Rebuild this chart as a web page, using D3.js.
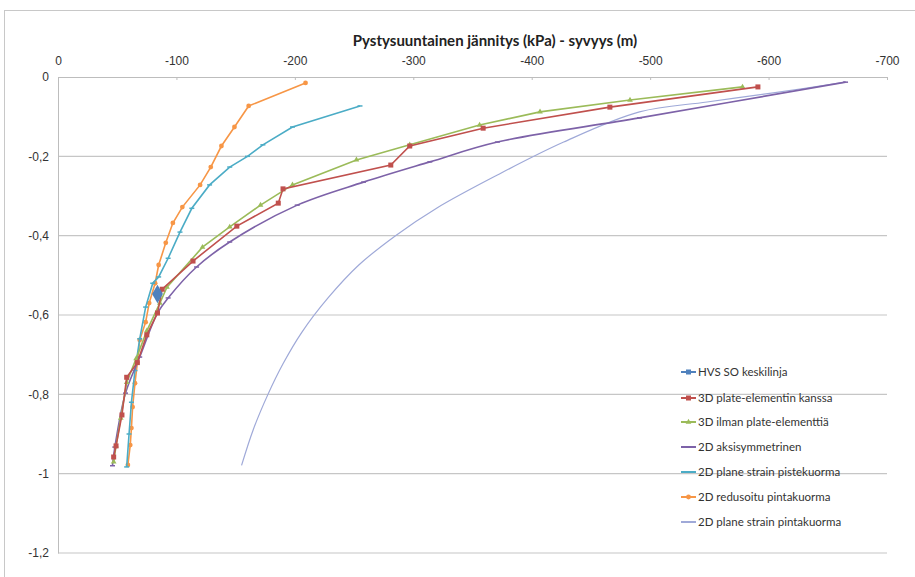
<!DOCTYPE html>
<html>
<head>
<meta charset="utf-8">
<script src="https://cdn.jsdelivr.net/npm/d3@7"></script>
<style>
  body { margin: 0; background: #fff; }
  svg { font-family: Lato, "Open Sans", sans-serif; }
</style>
</head>
<body>
<div id="chart"></div>
<script>
var svgWidth = 915;
var svgHeight = 577;

// series data: [stress kPa, depth m]
var hvsKeskilinja = [[-84, -0.547]];
var plate3D = [[-591, -0.025], [-466, -0.076], [-359, -0.129], [-297, -0.174], [-281, -0.222],
  [-190, -0.282], [-186, -0.318], [-151, -0.376], [-114, -0.464], [-88, -0.535], [-84, -0.595],
  [-75, -0.65], [-67, -0.72], [-58, -0.757], [-54, -0.852], [-49, -0.93], [-47, -0.958]];
var ilmanPlate3D = [[-578, -0.025], [-483, -0.058], [-407, -0.088], [-356, -0.121], [-297, -0.171],
  [-252, -0.209], [-198, -0.272], [-171, -0.323], [-145, -0.378], [-122, -0.429], [-92, -0.53],
  [-86, -0.57], [-75, -0.64], [-66, -0.71], [-58, -0.77], [-53, -0.86], [-49, -0.93], [-47, -0.97]];
var aksisymmetrinen = [[-665, -0.013], [-491, -0.103], [-371, -0.164], [-314, -0.214], [-258, -0.265],
  [-202, -0.323], [-145, -0.416], [-117, -0.479], [-93, -0.557], [-84, -0.595],
  [-69, -0.706], [-57, -0.797], [-48, -0.933], [-46, -0.98]];
var pistekuorma = [[-255, -0.073], [-198, -0.126], [-173, -0.171], [-160, -0.2], [-145, -0.227],
  [-128, -0.272], [-113, -0.331], [-103, -0.391], [-93, -0.457], [-85, -0.504], [-80, -0.52],
  [-74, -0.58], [-69, -0.66], [-65, -0.74], [-62, -0.82], [-60, -0.9], [-58, -0.983]];
var redusoitu = [[-209, -0.015], [-161, -0.073], [-149, -0.126], [-138, -0.174], [-129, -0.227],
  [-120, -0.272], [-105, -0.328], [-97, -0.368], [-91, -0.418], [-85, -0.474], [-82, -0.52],
  [-77, -0.57], [-74, -0.618], [-69, -0.663], [-67, -0.72], [-65, -0.772], [-63, -0.832],
  [-62, -0.885], [-61, -0.928], [-59, -0.978]];
var pintakuorma = [[-665, -0.013], [-604, -0.04], [-548, -0.063], [-491, -0.088], [-427, -0.164],
  [-371, -0.247], [-320, -0.33], [-285, -0.4], [-254, -0.474], [-228, -0.557], [-206, -0.643],
  [-190, -0.723], [-177, -0.802], [-165, -0.888], [-155, -0.979]];

var xTicks = [0, -100, -200, -300, -400, -500, -600, -700];
var yTicks = [0, -0.2, -0.4, -0.6, -0.8, -1, -1.2];

var series = [
  { name: "HVS SO keskilinja", data: hvsKeskilinja, color: "#4F81BD", marker: "diamond" },
  { name: "3D plate-elementin kanssa", data: plate3D, color: "#C0504D", marker: "square" },
  { name: "3D ilman plate-elementtiä", data: ilmanPlate3D, color: "#9BBB59", marker: "triangle" },
  { name: "2D aksisymmetrinen", data: aksisymmetrinen, color: "#7D62A8", marker: "dash", smooth: true },
  { name: "2D plane strain pistekuorma", data: pistekuorma, color: "#4BACC6", marker: "dash" },
  { name: "2D redusoitu pintakuorma", data: redusoitu, color: "#F79646", marker: "circle" },
  { name: "2D plane strain pintakuorma", data: pintakuorma, color: "#9FA9D8", marker: "none", smooth: true, thin: true }
];

var svg = d3.select("#chart").append("svg")
  .attr("width", svgWidth)
  .attr("height", svgHeight);

// outer chart border
svg.append("rect")
  .attr("x", 4.5).attr("y", 10.5)
  .attr("width", 915).attr("height", 575)
  .attr("fill", "none").attr("stroke", "#C8C8C8");

var x = d3.scaleLinear().domain([0, -700]).range([58, 887]);
var y = d3.scaleLinear().domain([0, -1.2]).range([77, 553]);

// gridlines
svg.append("g").selectAll("line")
  .data(yTicks.slice(1))
  .enter().append("line")
  .attr("x1", x(0)).attr("x2", x(-700))
  .attr("y1", d => y(d)).attr("y2", d => y(d))
  .attr("stroke", "#C6C6C6").attr("stroke-width", 1.2);

// top axis
var topAxis = d3.axisTop(x).tickValues(xTicks).tickSize(-3).tickPadding(12)
  .tickFormat(d => String(d));
var gx = svg.append("g").attr("transform", `translate(0, ${y(0)})`).call(topAxis);
gx.select(".domain").attr("stroke", "#BDBDBD");
gx.selectAll(".tick line").attr("stroke", "#BDBDBD");
gx.selectAll("text").attr("fill", "#333").style("font-size", "12px");

// left axis
var leftAxis = d3.axisLeft(y).tickValues(yTicks).tickSize(0).tickPadding(9)
  .tickFormat(d => String(d).replace(".", ","));
var gy = svg.append("g").attr("transform", `translate(${x(0)}, 0)`).call(leftAxis);
gy.select(".domain").attr("stroke", "#BDBDBD");
gy.selectAll("text").attr("fill", "#333").style("font-size", "12px");

// title
svg.append("text")
  .attr("x", 495).attr("y", 46)
  .attr("text-anchor", "middle")
  .style("font-size", "15px").style("font-weight", "bold")
  .attr("fill", "#222")
  .text("Pystysuuntainen jännitys (kPa) - syvyys (m)");

function drawMarker(g, type, color, cx, cy) {
  if (type === "diamond") {
    g.append("path").attr("d", d3.symbol(d3.symbolDiamond, 100)())
      .attr("transform", `translate(${cx},${cy})`).attr("fill", color);
  } else if (type === "square") {
    g.append("rect").attr("x", cx - 2.5).attr("y", cy - 2.5).attr("width", 5).attr("height", 5)
      .attr("fill", color);
  } else if (type === "triangle") {
    g.append("path").attr("d", d3.symbol(d3.symbolTriangle, 14)())
      .attr("transform", `translate(${cx},${cy})`).attr("fill", color);
  } else if (type === "circle") {
    g.append("circle").attr("cx", cx).attr("cy", cy).attr("r", 2.4).attr("fill", color);
  } else if (type === "dash") {
    g.append("line").attr("x1", cx - 2.5).attr("x2", cx + 2.5).attr("y1", cy).attr("y2", cy)
      .attr("stroke", color).attr("stroke-width", 1.5);
  }
}

// lines
var plot = svg.append("g");
series.slice().reverse().forEach(function(s) {
  var line = d3.line()
    .x(d => x(d[0])).y(d => y(d[1]))
    .curve(s.smooth ? d3.curveCatmullRom : d3.curveLinear);
  var g = plot.append("g");
  if (s.data.length > 1) {
    g.append("path").datum(s.data)
      .attr("d", line)
      .attr("fill", "none")
      .attr("stroke", s.color)
      .attr("stroke-width", s.thin ? 1.2 : 1.6);
  }
  s.data.forEach(d => drawMarker(g, s.marker, s.color, x(d[0]), y(d[1])));
});

// legend
var legend = svg.append("g");
var legendY = [372, 398, 422, 447, 472, 497, 522];
series.forEach(function(s, i) {
  var ly = legendY[i];
  var g = legend.append("g");
  g.append("line").attr("x1", 681).attr("x2", 696).attr("y1", ly).attr("y2", ly)
    .attr("stroke", s.color).attr("stroke-width", 2);
  drawMarker(g, s.marker === "diamond" ? "square" : s.marker, s.color, 688.5, ly);
  g.append("text").attr("x", 698).attr("y", ly + 4)
    .style("font-size", "11.5px").attr("fill", "#333")
    .text(s.name);
});
</script>
</body>
</html>
